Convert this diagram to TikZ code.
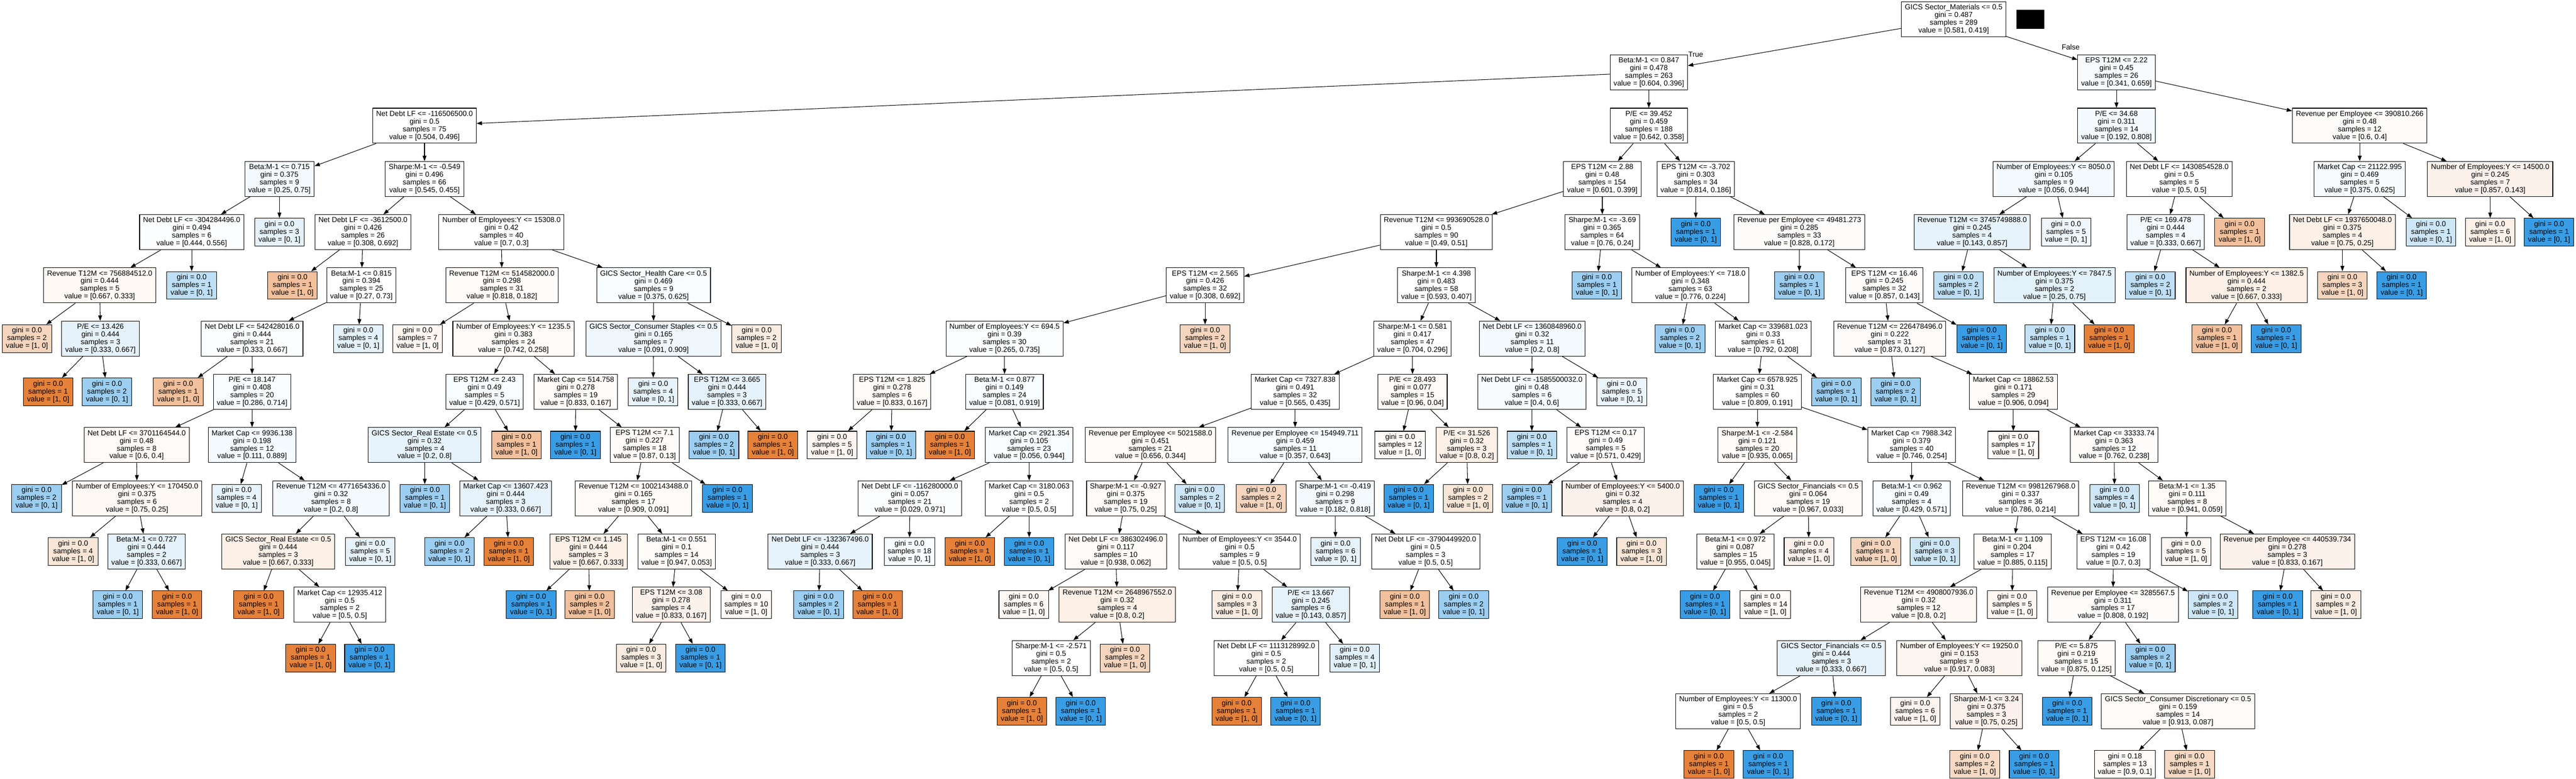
\documentclass[tikz,border=0pt]{standalone}
\usepackage{fontspec}
\setmainfont{Liberation Sans}
\usetikzlibrary{arrows.meta}
\definecolor{org}{HTML}{E58139}
\definecolor{blu}{HTML}{399DE5}

\begin{document}
\begin{tikzpicture}[x=0.5pt, y=-69.15pt,
    box/.style={draw, line width=0.7pt, align=center, inner xsep=4.5pt, inner ysep=0pt,
      minimum height=45.5pt, font=\fontsize{9.5pt}{10pt}\selectfont},
    leaf/.style={box, minimum height=36pt, minimum width=64.5pt},
    tag/.style={inner sep=0pt, font=\fontsize{9.5pt}{10pt}\selectfont},
    branch/.style={-{Triangle[length=7pt, width=5pt]}, line width=0.7pt}]
      \useasboundingbox (0, -0.3615) rectangle (6693, 14.266);
      \fill[white] (0, -0.3615) rectangle (6693, 14.266);

      % depth 0-1
      \node[box, fill=white] (root) at (5076, 0) {GICS Sector\_Materials <= 0.5\\gini = 0.487\\samples = 289\\value = [0.581, 0.419]};
      \fill (5239, -0.1735) rectangle (5312, 0.1808);
      \node[box, fill=white] (L) at (4284, 1) {Beta:M-1 <= 0.847\\gini = 0.478\\samples = 263\\value = [0.604, 0.396]};
      \node[box, fill=blu!4] (R) at (5499, 1) {EPS T12M <= 2.22\\gini = 0.45\\samples = 26\\value = [0.341, 0.659]};
      \node[tag] (true label) at (4406, 0.658) {True};
      \node[tag] (false label) at (5380, 0.528) {False};

      % depth 2
      \node[box, fill=white] (LL) at (1103, 2) {Net Debt LF <= -116506500.0\\gini = 0.5\\samples = 75\\value = [0.504, 0.496]};
      \node[box, fill=white] (LR) at (4284, 2) {P/E <= 39.452\\gini = 0.459\\samples = 188\\value = [0.642, 0.358]};
      \node[box, fill=blu!5] (RL) at (5499, 2) {P/E <= 34.68\\gini = 0.311\\samples = 14\\value = [0.192, 0.808]};
      \node[box, fill=org!2] (RR) at (6131, 2) {Revenue per Employee <= 390810.266\\gini = 0.48\\samples = 12\\value = [0.6, 0.4]};

      % depth 3
      \node[box, fill=blu!5] (LLL) at (726, 3) {Beta:M-1 <= 0.715\\gini = 0.375\\samples = 9\\value = [0.25, 0.75]};
      \node[box, fill=white] (LLR) at (1103, 3) {Sharpe:M-1 <= -0.549\\gini = 0.496\\samples = 66\\value = [0.545, 0.455]};
      \node[box, fill=white] (LRL) at (4163, 3) {EPS T12M <= 2.88\\gini = 0.48\\samples = 154\\value = [0.601, 0.399]};
      \node[box, fill=white] (LRR) at (4406, 3) {EPS T12M <= -3.702\\gini = 0.303\\samples = 34\\value = [0.814, 0.186]};
      \node[box, fill=blu!5] (RLL) at (5336, 3) {Number of Employees:Y <= 8050.0\\gini = 0.105\\samples = 9\\value = [0.056, 0.944]};
      \node[box, fill=white] (RLR) at (5662, 3) {Net Debt LF <= 1430854528.0\\gini = 0.5\\samples = 5\\value = [0.5, 0.5]};
      \node[box, fill=blu!4] (RRL) at (6131, 3) {Market Cap <= 21122.995\\gini = 0.469\\samples = 5\\value = [0.375, 0.625]};
      \node[box, fill=org!10] (RRR) at (6470, 3) {Number of Employees:Y <= 14500.0\\gini = 0.245\\samples = 7\\value = [0.857, 0.143]};

      % depth 4
      \node[box, fill=blu!2] (LLLL) at (498, 4) {Net Debt LF <= -304284496.0\\gini = 0.494\\samples = 6\\value = [0.444, 0.556]};
      \node[leaf, fill=blu!13] (LLLR) at (726, 4) {gini = 0.0\\samples = 3\\value = [0, 1]};
      \node[box, fill=white] (LLRL) at (943, 4) {Net Debt LF <= -3612500.0\\gini = 0.426\\samples = 26\\value = [0.308, 0.692]};
      \node[box, fill=white] (LLRR) at (1303, 4) {Number of Employees:Y <= 15308.0\\gini = 0.42\\samples = 40\\value = [0.7, 0.3]};
      \node[box, fill=white] (LRLL) at (3732, 4) {Revenue T12M <= 993690528.0\\gini = 0.5\\samples = 90\\value = [0.49, 0.51]};
      \node[box, fill=white] (LRLR) at (4163, 4) {Sharpe:M-1 <= -3.69\\gini = 0.365\\samples = 64\\value = [0.76, 0.24]};
      \node[leaf, fill=blu] (LRRL) at (4406, 4) {gini = 0.0\\samples = 1\\value = [0, 1]};
      \node[box, fill=org!2] (LRRR) at (4675, 4) {Revenue per Employee <= 49481.273\\gini = 0.285\\samples = 33\\value = [0.828, 0.172]};
      \node[box, fill=blu!12] (RLLL) at (5124, 4) {Revenue T12M <= 3745749888.0\\gini = 0.245\\samples = 4\\value = [0.143, 0.857]};
      \node[leaf, fill=blu!8] (RLLR) at (5368, 4) {gini = 0.0\\samples = 5\\value = [0, 1]};
      \node[box, fill=blu!6] (RLRL) at (5627, 4) {P/E <= 169.478\\gini = 0.444\\samples = 4\\value = [0.333, 0.667]};
      \node[leaf, fill=org!50] (RLRR) at (5819, 4) {gini = 0.0\\samples = 1\\value = [1, 0]};
      \node[box, fill=org!12] (RRLL) at (6086, 4) {Net Debt LF <= 1937650048.0\\gini = 0.375\\samples = 4\\value = [0.75, 0.25]};
      \node[leaf, fill=blu!25] (RRLR) at (6316, 4) {gini = 0.0\\samples = 1\\value = [0, 1]};
      \node[leaf, fill=org!12] (RRRL) at (6470, 4) {gini = 0.0\\samples = 6\\value = [1, 0]};
      \node[leaf, fill=blu] (RRRR) at (6623, 4) {gini = 0.0\\samples = 1\\value = [0, 1]};

      % depth 5
      \node[box, fill=org!5] (LLLLL) at (259, 5) {Revenue T12M <= 756884512.0\\gini = 0.444\\samples = 5\\value = [0.667, 0.333]};
      \node[leaf, fill=blu!33] (LLLLR) at (498, 5) {gini = 0.0\\samples = 1\\value = [0, 1]};
      \node[leaf, fill=org!50] (LLRLL) at (760, 5) {gini = 0.0\\samples = 1\\value = [1, 0]};
      \node[box, fill=white] (LLRLR) at (939, 5) {Beta:M-1 <= 0.815\\gini = 0.394\\samples = 25\\value = [0.27, 0.73]};
      \node[box, fill=org!3] (LLRRL) at (1304, 5) {Revenue T12M <= 514582000.0\\gini = 0.298\\samples = 31\\value = [0.818, 0.182]};
      \node[box, fill=blu!3] (LLRRR) at (1698, 5) {GICS Sector\_Health Care <= 0.5\\gini = 0.469\\samples = 9\\value = [0.375, 0.625]};
      \node[box, fill=white] (LRLLL) at (3131, 5) {EPS T12M <= 2.565\\gini = 0.426\\samples = 32\\value = [0.308, 0.692]};
      \node[box, fill=white] (LRLLR) at (3732, 5) {Sharpe:M-1 <= 4.398\\gini = 0.483\\samples = 58\\value = [0.593, 0.407]};
      \node[leaf, fill=blu!50] (LRLRL) at (4149, 5) {gini = 0.0\\samples = 1\\value = [0, 1]};
      \node[box, fill=white] (LRLRR) at (4392, 5) {Number of Employees:Y <= 718.0\\gini = 0.348\\samples = 63\\value = [0.776, 0.224]};
      \node[leaf, fill=blu!50] (LRRRL) at (4675, 5) {gini = 0.0\\samples = 1\\value = [0, 1]};
      \node[box, fill=org!2] (LRRRR) at (4896, 5) {EPS T12M <= 16.46\\gini = 0.245\\samples = 32\\value = [0.857, 0.143]};
      \node[leaf, fill=blu!33] (RLLLL) at (5089, 5) {gini = 0.0\\samples = 2\\value = [0, 1]};
      \node[box, fill=blu!14] (RLLLR) at (5338, 5) {Number of Employees:Y <= 7847.5\\gini = 0.375\\samples = 2\\value = [0.25, 0.75]};
      \node[leaf, fill=blu!33] (RLRLL) at (5587, 5) {gini = 0.0\\samples = 2\\value = [0, 1]};
      \node[box, fill=org!12] (RLRLR) at (5837, 5) {Number of Employees:Y <= 1382.5\\gini = 0.444\\samples = 2\\value = [0.667, 0.333]};
      \node[leaf, fill=org!33] (RRLLL) at (6086, 5) {gini = 0.0\\samples = 3\\value = [1, 0]};
      \node[leaf, fill=blu] (RRLLR) at (6240, 5) {gini = 0.0\\samples = 1\\value = [0, 1]};

      % depth 6
      \node[leaf, fill=org!33] (LLLLLL) at (70, 6) {gini = 0.0\\samples = 2\\value = [1, 0]};
      \node[box, fill=blu!13] (LLLLLR) at (261, 6) {P/E <= 13.426\\gini = 0.444\\samples = 3\\value = [0.333, 0.667]};
      \node[box, fill=blu!2] (LLRLRL) at (655, 6) {Net Debt LF <= 542428016.0\\gini = 0.444\\samples = 21\\value = [0.333, 0.667]};
      \node[leaf, fill=blu!13] (LLRLRR) at (931, 6) {gini = 0.0\\samples = 4\\value = [0, 1]};
      \node[leaf, fill=org!7] (LLRRLL) at (1085, 6) {gini = 0.0\\samples = 7\\value = [1, 0]};
      \node[box, fill=org!3] (LLRRLR) at (1334, 6) {Number of Employees:Y <= 1235.5\\gini = 0.383\\samples = 24\\value = [0.742, 0.258]};
      \node[box, fill=blu!8] (LLRRRL) at (1698, 6) {GICS Sector\_Consumer Staples <= 0.5\\gini = 0.165\\samples = 7\\value = [0.091, 0.909]};
      \node[leaf, fill=org!15] (LLRRRR) at (1966, 6) {gini = 0.0\\samples = 2\\value = [1, 0]};
      \node[box, fill=blu!2] (LRLLLL) at (2610, 6) {Number of Employees:Y <= 694.5\\gini = 0.39\\samples = 30\\value = [0.265, 0.735]};
      \node[leaf, fill=org!33] (LRLLLR) at (3131, 6) {gini = 0.0\\samples = 2\\value = [1, 0]};
      \node[box, fill=white] (LRLLRL) at (3670, 6) {Sharpe:M-1 <= 0.581\\gini = 0.417\\samples = 47\\value = [0.704, 0.296]};
      \node[box, fill=blu!5] (LRLLRR) at (3981, 6) {Net Debt LF <= 1360848960.0\\gini = 0.32\\samples = 11\\value = [0.2, 0.8]};
      \node[leaf, fill=blu!50] (LRLRRL) at (4365, 6) {gini = 0.0\\samples = 2\\value = [0, 1]};
      \node[box, fill=white] (LRLRRR) at (4581, 6) {Market Cap <= 339681.023\\gini = 0.33\\samples = 61\\value = [0.792, 0.208]};
      \node[box, fill=org!2] (LRRRRL) at (4910, 6) {Revenue T12M <= 226478496.0\\gini = 0.222\\samples = 31\\value = [0.873, 0.127]};
      \node[leaf, fill=blu] (LRRRRR) at (5149, 6) {gini = 0.0\\samples = 1\\value = [0, 1]};
      \node[leaf, fill=blu!30] (RLLLRL) at (5326, 6) {gini = 0.0\\samples = 1\\value = [0, 1]};
      \node[leaf, fill=org] (RLLLRR) at (5480, 6) {gini = 0.0\\samples = 1\\value = [1, 0]};
      \node[leaf, fill=org!50] (RLRLRL) at (5760, 6) {gini = 0.0\\samples = 1\\value = [1, 0]};
      \node[leaf, fill=blu] (RLRLRR) at (5914, 6) {gini = 0.0\\samples = 1\\value = [0, 1]};

      % depth 7
      \node[leaf, fill=org] (LLLLLRL) at (125, 7) {gini = 0.0\\samples = 1\\value = [1, 0]};
      \node[leaf, fill=blu!50] (LLLLLRR) at (278, 7) {gini = 0.0\\samples = 2\\value = [0, 1]};
      \node[leaf, fill=org!50] (LLRLRLL) at (463, 7) {gini = 0.0\\samples = 1\\value = [1, 0]};
      \node[box, fill=blu!3] (LLRLRLR) at (655, 7) {P/E <= 18.147\\gini = 0.408\\samples = 20\\value = [0.286, 0.714]};
      \node[box, fill=blu!3] (LLRRLRL) at (1259, 7) {EPS T12M <= 2.43\\gini = 0.49\\samples = 5\\value = [0.429, 0.571]};
      \node[box, fill=org!3] (LLRRLRR) at (1496, 7) {Market Cap <= 514.758\\gini = 0.278\\samples = 19\\value = [0.833, 0.167]};
      \node[leaf, fill=blu!12] (LLRRRLL) at (1697, 7) {gini = 0.0\\samples = 4\\value = [0, 1]};
      \node[box, fill=blu!13] (LLRRRLR) at (1889, 7) {EPS T12M <= 3.665\\gini = 0.444\\samples = 3\\value = [0.333, 0.667]};
      \node[box, fill=org!4] (LRLLLLL) at (2318, 7) {EPS T12M <= 1.825\\gini = 0.278\\samples = 6\\value = [0.833, 0.167]};
      \node[box, fill=blu!3] (LRLLLLR) at (2610, 7) {Beta:M-1 <= 0.877\\gini = 0.149\\samples = 24\\value = [0.081, 0.919]};
      \node[box, fill=white] (LRLLRLL) at (3365, 7) {Market Cap <= 7327.838\\gini = 0.491\\samples = 32\\value = [0.565, 0.435]};
      \node[box, fill=org!4] (LRLLRLR) at (3670, 7) {P/E <= 28.493\\gini = 0.077\\samples = 15\\value = [0.96, 0.04]};
      \node[box, fill=blu!4] (LRLLRRL) at (3980, 7) {Net Debt LF <= -1585500032.0\\gini = 0.48\\samples = 6\\value = [0.4, 0.6]};
      \node[leaf, fill=blu!10] (LRLLRRR) at (4214, 7) {gini = 0.0\\samples = 5\\value = [0, 1]};
      \node[box, fill=white] (LRLRRRL) at (4566, 7) {Market Cap <= 6578.925\\gini = 0.31\\samples = 60\\value = [0.809, 0.191]};
      \node[leaf, fill=blu!50] (LRLRRRR) at (4771, 7) {gini = 0.0\\samples = 1\\value = [0, 1]};
      \node[leaf, fill=blu!50] (LRRRRLL) at (4925, 7) {gini = 0.0\\samples = 2\\value = [0, 1]};
      \node[box, fill=org!3] (LRRRRLR) at (5231, 7) {Market Cap <= 18862.53\\gini = 0.171\\samples = 29\\value = [0.906, 0.094]};

      % depth 8
      \node[box, fill=org!4] (LLRLRLRL) at (355, 8) {Net Debt LF <= 3701164544.0\\gini = 0.48\\samples = 8\\value = [0.6, 0.4]};
      \node[box, fill=blu!5] (LLRLRLRR) at (655, 8) {Market Cap <= 9936.138\\gini = 0.198\\samples = 12\\value = [0.111, 0.889]};
      \node[box, fill=blu!12] (LLRRLRLL) at (1103, 8) {GICS Sector\_Real Estate <= 0.5\\gini = 0.32\\samples = 4\\value = [0.2, 0.8]};
      \node[leaf, fill=org!50] (LLRRLRLR) at (1342, 8) {gini = 0.0\\samples = 1\\value = [1, 0]};
      \node[leaf, fill=blu] (LLRRLRRL) at (1495, 8) {gini = 0.0\\samples = 1\\value = [0, 1]};
      \node[box, fill=org!3] (LLRRLRRR) at (1675, 8) {EPS T12M <= 7.1\\gini = 0.227\\samples = 18\\value = [0.87, 0.13]};
      \node[leaf, fill=blu!50] (LLRRRLRL) at (1855, 8) {gini = 0.0\\samples = 2\\value = [0, 1]};
      \node[leaf, fill=org] (LLRRRLRR) at (2008, 8) {gini = 0.0\\samples = 1\\value = [1, 0]};
      \node[leaf, fill=org!7] (LRLLLLLL) at (2162, 8) {gini = 0.0\\samples = 5\\value = [1, 0]};
      \node[leaf, fill=blu!50] (LRLLLLLR) at (2315, 8) {gini = 0.0\\samples = 1\\value = [0, 1]};
      \node[leaf, fill=org] (LRLLLLRL) at (2468, 8) {gini = 0.0\\samples = 1\\value = [1, 0]};
      \node[box, fill=blu!3] (LRLLLLRR) at (2674, 8) {Market Cap <= 2921.354\\gini = 0.105\\samples = 23\\value = [0.056, 0.944]};
      \node[box, fill=org!3] (LRLLRLLL) at (2989, 8) {Revenue per Employee <= 5021588.0\\gini = 0.451\\samples = 21\\value = [0.656, 0.344]};
      \node[box, fill=blu!3] (LRLLRLLR) at (3365, 8) {Revenue per Employee <= 154949.711\\gini = 0.459\\samples = 11\\value = [0.357, 0.643]};
      \node[leaf, fill=org!4] (LRLLRLRL) at (3638, 8) {gini = 0.0\\samples = 12\\value = [1, 0]};
      \node[box, fill=org!12] (LRLLRLRR) at (3811, 8) {P/E <= 31.526\\gini = 0.32\\samples = 3\\value = [0.8, 0.2]};
      \node[leaf, fill=blu!33] (LRLLRRLL) at (3980, 8) {gini = 0.0\\samples = 1\\value = [0, 1]};
      \node[box, fill=org!2] (LRLLRRLR) at (4172, 8) {EPS T12M <= 0.17\\gini = 0.49\\samples = 5\\value = [0.571, 0.429]};
      \node[box, fill=org!3] (LRLRRRLL) at (4566, 8) {Sharpe:M-1 <= -2.584\\gini = 0.121\\samples = 20\\value = [0.935, 0.065]};
      \node[box, fill=white] (LRLRRRLR) at (4967, 8) {Market Cap <= 7988.342\\gini = 0.379\\samples = 40\\value = [0.746, 0.254]};
      \node[leaf, fill=org!3] (LRRRRLRL) at (5231, 8) {gini = 0.0\\samples = 17\\value = [1, 0]};
      \node[box, fill=org!2] (LRRRRLRR) at (5493, 8) {Market Cap <= 33333.74\\gini = 0.363\\samples = 12\\value = [0.762, 0.238]};

      % depth 9
      \node[leaf, fill=blu!50] (LLRLRLRLL) at (95, 9) {gini = 0.0\\samples = 2\\value = [0, 1]};
      \node[box, fill=org!5] (LLRLRLRLR) at (356, 9) {Number of Employees:Y <= 170450.0\\gini = 0.375\\samples = 6\\value = [0.75, 0.25]};
      \node[leaf, fill=blu!12] (LLRLRLRRL) at (615, 9) {gini = 0.0\\samples = 4\\value = [0, 1]};
      \node[box, fill=blu!5] (LLRLRLRRR) at (860, 9) {Revenue T12M <= 4771654336.0\\gini = 0.32\\samples = 8\\value = [0.2, 0.8]};
      \node[leaf, fill=blu!50] (LLRRLRLLL) at (1104, 9) {gini = 0.0\\samples = 1\\value = [0, 1]};
      \node[box, fill=blu!12] (LLRRLRLLR) at (1314, 9) {Market Cap <= 13607.423\\gini = 0.444\\samples = 3\\value = [0.333, 0.667]};
      \node[box, fill=org!3] (LLRRLRRRL) at (1646, 9) {Revenue T12M <= 1002143488.0\\gini = 0.165\\samples = 17\\value = [0.909, 0.091]};
      \node[leaf, fill=blu] (LLRRLRRRR) at (1890, 9) {gini = 0.0\\samples = 1\\value = [0, 1]};
      \node[box, fill=blu!2] (LRLLLLRRL) at (2364, 9) {Net Debt LF <= -116280000.0\\gini = 0.057\\samples = 21\\value = [0.029, 0.971]};
      \node[box, fill=white] (LRLLLLRRR) at (2674, 9) {Market Cap <= 3180.063\\gini = 0.5\\samples = 2\\value = [0.5, 0.5]};
      \node[box, fill=org!3] (LRLLRLLLL) at (2925, 9) {Sharpe:M-1 <= -0.927\\gini = 0.375\\samples = 19\\value = [0.75, 0.25]};
      \node[leaf, fill=blu!25] (LRLLRLLLR) at (3117, 9) {gini = 0.0\\samples = 2\\value = [0, 1]};
      \node[leaf, fill=org!33] (LRLLRLLRL) at (3277, 9) {gini = 0.0\\samples = 2\\value = [1, 0]};
      \node[box, fill=blu!5] (LRLLRLLRR) at (3469, 9) {Sharpe:M-1 <= -0.419\\gini = 0.298\\samples = 9\\value = [0.182, 0.818]};
      \node[leaf, fill=blu] (LRLLRLRRL) at (3660, 9) {gini = 0.0\\samples = 1\\value = [0, 1]};
      \node[leaf, fill=org!20] (LRLLRLRRR) at (3814, 9) {gini = 0.0\\samples = 2\\value = [1, 0]};
      \node[leaf, fill=blu!50] (LRLLRRLRL) at (3967, 9) {gini = 0.0\\samples = 1\\value = [0, 1]};
      \node[box, fill=org!10] (LRLLRRLRR) at (4216, 9) {Number of Employees:Y <= 5400.0\\gini = 0.32\\samples = 4\\value = [0.8, 0.2]};
      \node[leaf, fill=blu] (LRLRRRLLL) at (4466, 9) {gini = 0.0\\samples = 1\\value = [0, 1]};
      \node[box, fill=org!3] (LRLRRRLLR) at (4698, 9) {GICS Sector\_Financials <= 0.5\\gini = 0.064\\samples = 19\\value = [0.967, 0.033]};
      \node[box, fill=blu!3] (LRLRRRLRL) at (4967, 9) {Beta:M-1 <= 0.962\\gini = 0.49\\samples = 4\\value = [0.429, 0.571]};
      \node[box, fill=white] (LRLRRRLRR) at (5250, 9) {Revenue T12M <= 9981267968.0\\gini = 0.337\\samples = 36\\value = [0.786, 0.214]};
      \node[leaf, fill=blu!25] (LRRRRLRRL) at (5494, 9) {gini = 0.0\\samples = 4\\value = [0, 1]};
      \node[box, fill=org!3] (LRRRRLRRR) at (5683, 9) {Beta:M-1 <= 1.35\\gini = 0.111\\samples = 8\\value = [0.941, 0.059]};

      % depth 10
      \node[leaf, fill=org!20] (LLRLRLRLRL) at (190, 10) {gini = 0.0\\samples = 4\\value = [1, 0]};
      \node[box, fill=blu!13] (LLRLRLRLRR) at (381, 10) {Beta:M-1 <= 0.727\\gini = 0.444\\samples = 2\\value = [0.333, 0.667]};
      \node[box, fill=org!12] (LLRLRLRRRL) at (723, 10) {GICS Sector\_Real Estate <= 0.5\\gini = 0.444\\samples = 3\\value = [0.667, 0.333]};
      \node[leaf, fill=blu!12] (LLRLRLRRRR) at (962, 10) {gini = 0.0\\samples = 5\\value = [0, 1]};
      \node[leaf, fill=blu!50] (LLRRLRLLRL) at (1168, 10) {gini = 0.0\\samples = 2\\value = [0, 1]};
      \node[leaf, fill=org] (LLRRLRLLRR) at (1322, 10) {gini = 0.0\\samples = 1\\value = [1, 0]};
      \node[box, fill=org!12] (LLRRLRRRLL) at (1529, 10) {EPS T12M <= 1.145\\gini = 0.444\\samples = 3\\value = [0.667, 0.333]};
      \node[box, fill=org!3] (LLRRLRRRLR) at (1758, 10) {Beta:M-1 <= 0.551\\gini = 0.1\\samples = 14\\value = [0.947, 0.053]};
      \node[box, fill=blu!12] (LRLLLLRRLL) at (2131, 10) {Net Debt LF <= -132367496.0\\gini = 0.444\\samples = 3\\value = [0.333, 0.667]};
      \node[leaf, fill=blu!3] (LRLLLLRRLR) at (2363, 10) {gini = 0.0\\samples = 18\\value = [0, 1]};
      \node[leaf, fill=org] (LRLLLLRRRL) at (2520, 10) {gini = 0.0\\samples = 1\\value = [1, 0]};
      \node[leaf, fill=blu] (LRLLLLRRRR) at (2674, 10) {gini = 0.0\\samples = 1\\value = [0, 1]};
      \node[box, fill=org!4] (LRLLRLLLLL) at (2899, 10) {Net Debt LF <= 386302496.0\\gini = 0.117\\samples = 10\\value = [0.938, 0.062]};
      \node[box, fill=white] (LRLLRLLLLR) at (3221, 10) {Number of Employees:Y <= 3544.0\\gini = 0.5\\samples = 9\\value = [0.5, 0.5]};
      \node[leaf, fill=blu!12] (LRLLRLLRRL) at (3470, 10) {gini = 0.0\\samples = 6\\value = [0, 1]};
      \node[box, fill=white] (LRLLRLLRRR) at (3704, 10) {Net Debt LF <= -3790449920.0\\gini = 0.5\\samples = 3\\value = [0.5, 0.5]};
      \node[leaf, fill=blu] (LRLLRRLRRL) at (4111, 10) {gini = 0.0\\samples = 1\\value = [0, 1]};
      \node[leaf, fill=org!20] (LRLLRRLRRR) at (4265, 10) {gini = 0.0\\samples = 3\\value = [1, 0]};
      \node[box, fill=org!3] (LRLRRRLLRL) at (4509, 10) {Beta:M-1 <= 0.972\\gini = 0.087\\samples = 15\\value = [0.955, 0.045]};
      \node[leaf, fill=org!10] (LRLRRRLLRR) at (4700, 10) {gini = 0.0\\samples = 4\\value = [1, 0]};
      \node[leaf, fill=org!33] (LRLRRRLRLL) at (4874, 10) {gini = 0.0\\samples = 1\\value = [1, 0]};
      \node[leaf, fill=blu!25] (LRLRRRLRLR) at (5027, 10) {gini = 0.0\\samples = 3\\value = [0, 1]};
      \node[box, fill=org!3] (LRLRRRLRRL) at (5229, 10) {Beta:M-1 <= 1.109\\gini = 0.204\\samples = 17\\value = [0.885, 0.115]};
      \node[box, fill=white] (LRLRRRLRRR) at (5491, 10) {EPS T12M <= 16.08\\gini = 0.42\\samples = 19\\value = [0.7, 0.3]};
      \node[leaf, fill=org!6] (LRRRRLRRRL) at (5680, 10) {gini = 0.0\\samples = 5\\value = [1, 0]};
      \node[box, fill=org!10] (LRRRRLRRRR) at (5943, 10) {Revenue per Employee <= 440539.734\\gini = 0.278\\samples = 3\\value = [0.833, 0.167]};

      % depth 11
      \node[leaf, fill=blu!50] (LLRLRLRLRRL) at (306, 11) {gini = 0.0\\samples = 1\\value = [0, 1]};
      \node[leaf, fill=org] (LLRLRLRLRRR) at (460, 11) {gini = 0.0\\samples = 1\\value = [1, 0]};
      \node[leaf, fill=org] (LLRLRLRRRLL) at (672, 11) {gini = 0.0\\samples = 1\\value = [1, 0]};
      \node[box, fill=white] (LLRLRLRRRLR) at (883, 11) {Market Cap <= 12935.412\\gini = 0.5\\samples = 2\\value = [0.5, 0.5]};
      \node[leaf, fill=blu] (LLRRLRRRLLL) at (1380, 11) {gini = 0.0\\samples = 1\\value = [0, 1]};
      \node[leaf, fill=org!50] (LLRRLRRRLLR) at (1532, 11) {gini = 0.0\\samples = 2\\value = [1, 0]};
      \node[box, fill=org!10] (LLRRLRRRLRL) at (1744, 11) {EPS T12M <= 3.08\\gini = 0.278\\samples = 4\\value = [0.833, 0.167]};
      \node[leaf, fill=org!4] (LLRRLRRRLRR) at (1939, 11) {gini = 0.0\\samples = 10\\value = [1, 0]};
      \node[leaf, fill=blu!50] (LRLLLLRRLLL) at (2127, 11) {gini = 0.0\\samples = 2\\value = [0, 1]};
      \node[leaf, fill=org] (LRLLLLRRLLR) at (2280, 11) {gini = 0.0\\samples = 1\\value = [1, 0]};
      \node[leaf, fill=org!5] (LRLLRLLLLLL) at (2660, 11) {gini = 0.0\\samples = 6\\value = [1, 0]};
      \node[box, fill=org!12] (LRLLRLLLLLR) at (2903, 11) {Revenue T12M <= 2648967552.0\\gini = 0.32\\samples = 4\\value = [0.8, 0.2]};
      \node[leaf, fill=org!15] (LRLLRLLLLRL) at (3214, 11) {gini = 0.0\\samples = 3\\value = [1, 0]};
      \node[box, fill=blu!12] (LRLLRLLLLRR) at (3406, 11) {P/E <= 13.667\\gini = 0.245\\samples = 6\\value = [0.143, 0.857]};
      \node[leaf, fill=org!50] (LRLLRLLRRRL) at (3650, 11) {gini = 0.0\\samples = 1\\value = [1, 0]};
      \node[leaf, fill=blu!50] (LRLLRLLRRRR) at (3803, 11) {gini = 0.0\\samples = 2\\value = [0, 1]};
      \node[leaf, fill=blu] (LRLRRRLLRLL) at (4430, 11) {gini = 0.0\\samples = 1\\value = [0, 1]};
      \node[leaf, fill=org!3] (LRLRRRLLRLR) at (4587, 11) {gini = 0.0\\samples = 14\\value = [1, 0]};
      \node[box, fill=org!5] (LRLRRRLRRLL) at (4985, 11) {Revenue T12M <= 4908007936.0\\gini = 0.32\\samples = 12\\value = [0.8, 0.2]};
      \node[leaf, fill=org!6] (LRLRRRLRRLR) at (5228, 11) {gini = 0.0\\samples = 5\\value = [1, 0]};
      \node[box, fill=org!2] (LRLRRRLRRRL) at (5490, 11) {Revenue per Employee <= 3285567.5\\gini = 0.311\\samples = 17\\value = [0.808, 0.192]};
      \node[leaf, fill=blu!25] (LRLRRRLRRRR) at (5750, 11) {gini = 0.0\\samples = 2\\value = [0, 1]};
      \node[leaf, fill=blu] (LRRRRLRRRRL) at (5918, 11) {gini = 0.0\\samples = 1\\value = [0, 1]};
      \node[leaf, fill=org!15] (LRRRRLRRRRR) at (6069, 11) {gini = 0.0\\samples = 2\\value = [1, 0]};

      % depth 12
      \node[leaf, fill=org] (LLRLRLRRRLRL) at (807, 12) {gini = 0.0\\samples = 1\\value = [1, 0]};
      \node[leaf, fill=blu] (LLRLRLRRRLRR) at (960, 12) {gini = 0.0\\samples = 1\\value = [0, 1]};
      \node[leaf, fill=org!15] (LLRRLRRRLRLL) at (1666, 12) {gini = 0.0\\samples = 3\\value = [1, 0]};
      \node[leaf, fill=blu] (LLRRLRRRLRLR) at (1820, 12) {gini = 0.0\\samples = 1\\value = [0, 1]};
      \node[box, fill=white] (LRLLRLLLLLRL) at (2731, 12) {Sharpe:M-1 <= -2.571\\gini = 0.5\\samples = 2\\value = [0.5, 0.5]};
      \node[leaf, fill=org!33] (LRLLRLLLLLRR) at (2923, 12) {gini = 0.0\\samples = 2\\value = [1, 0]};
      \node[box, fill=white] (LRLLRLLLLRRL) at (3290, 12) {Net Debt LF <= 1113128992.0\\gini = 0.5\\samples = 2\\value = [0.5, 0.5]};
      \node[leaf, fill=blu!15] (LRLLRLLLLRRR) at (3520, 12) {gini = 0.0\\samples = 4\\value = [0, 1]};
      \node[box, fill=blu!12] (LRLRRRLRRLLL) at (4758, 12) {GICS Sector\_Financials <= 0.5\\gini = 0.444\\samples = 3\\value = [0.333, 0.667]};
      \node[box, fill=org!8] (LRLRRRLRRLLR) at (5091, 12) {Number of Employees:Y <= 19250.0\\gini = 0.153\\samples = 9\\value = [0.917, 0.083]};
      \node[box, fill=org!3] (LRLRRRLRRRLL) at (5395, 12) {P/E <= 5.875\\gini = 0.219\\samples = 15\\value = [0.875, 0.125]};
      \node[leaf, fill=blu!50] (LRLRRRLRRRLR) at (5587, 12) {gini = 0.0\\samples = 2\\value = [0, 1]};

      % depth 13
      \node[leaf, fill=org] (LRLLRLLLLLRLL) at (2655, 13) {gini = 0.0\\samples = 1\\value = [1, 0]};
      \node[leaf, fill=blu] (LRLLRLLLLLRLR) at (2808, 13) {gini = 0.0\\samples = 1\\value = [0, 1]};
      \node[leaf, fill=org] (LRLLRLLLLRRLL) at (3213, 13) {gini = 0.0\\samples = 1\\value = [1, 0]};
      \node[leaf, fill=blu] (LRLLRLLLLRRLR) at (3366, 13) {gini = 0.0\\samples = 1\\value = [0, 1]};
      \node[box, fill=white] (LRLRRRLRRLLLL) at (4516, 13) {Number of Employees:Y <= 11300.0\\gini = 0.5\\samples = 2\\value = [0.5, 0.5]};
      \node[leaf, fill=blu] (LRLRRRLRRLLLR) at (4771, 13) {gini = 0.0\\samples = 1\\value = [0, 1]};
      \node[leaf, fill=org!8] (LRLRRRLRRLLRL) at (4976, 13) {gini = 0.0\\samples = 6\\value = [1, 0]};
      \node[box, fill=org!10] (LRLRRRLRRLLRR) at (5161, 13) {Sharpe:M-1 <= 3.24\\gini = 0.375\\samples = 3\\value = [0.75, 0.25]};
      \node[leaf, fill=blu] (LRLRRRLRRRLLL) at (5371, 13) {gini = 0.0\\samples = 1\\value = [0, 1]};
      \node[box, fill=org!3] (LRLRRRLRRRLLR) at (5659, 13) {GICS Sector\_Consumer Discretionary <= 0.5\\gini = 0.159\\samples = 14\\value = [0.913, 0.087]};

      % depth 14
      \node[leaf, fill=org] (LRLRRRLRRLLLLL) at (4440, 14) {gini = 0.0\\samples = 1\\value = [1, 0]};
      \node[leaf, fill=blu] (LRLRRRLRRLLLLR) at (4594, 14) {gini = 0.0\\samples = 1\\value = [0, 1]};
      \node[leaf, fill=org!30] (LRLRRRLRRLLRRL) at (5131, 14) {gini = 0.0\\samples = 2\\value = [1, 0]};
      \node[leaf, fill=blu] (LRLRRRLRRLLRRR) at (5285, 14) {gini = 0.0\\samples = 1\\value = [0, 1]};
      \node[leaf, fill=org!3] (LRLRRRLRRRLLRL) at (5521, 14) {gini = 0.18\\samples = 13\\value = [0.9, 0.1]};
      \node[leaf, fill=org!30] (LRLRRRLRRRLLRR) at (5689, 14) {gini = 0.0\\samples = 1\\value = [1, 0]};

      % branches
      \draw[branch] (root) edge (L) edge (R);
      \draw[branch] (L) edge (LL) edge (LR);
      \draw[branch] (R) edge (RL) edge (RR);
      \draw[branch] (LL) edge (LLL) edge (LLR);
      \draw[branch] (LR) edge (LRL) edge (LRR);
      \draw[branch] (RL) edge (RLL) edge (RLR);
      \draw[branch] (RR) edge (RRL) edge (RRR);
      \draw[branch] (LLL) edge (LLLL) edge (LLLR);
      \draw[branch] (LLR) edge (LLRL) edge (LLRR);
      \draw[branch] (LRL) edge (LRLL) edge (LRLR);
      \draw[branch] (LRR) edge (LRRL) edge (LRRR);
      \draw[branch] (RLL) edge (RLLL) edge (RLLR);
      \draw[branch] (RLR) edge (RLRL) edge (RLRR);
      \draw[branch] (RRL) edge (RRLL) edge (RRLR);
      \draw[branch] (RRR) edge (RRRL) edge (RRRR);
      \draw[branch] (LLLL) edge (LLLLL) edge (LLLLR);
      \draw[branch] (LLRL) edge (LLRLL) edge (LLRLR);
      \draw[branch] (LLRR) edge (LLRRL) edge (LLRRR);
      \draw[branch] (LRLL) edge (LRLLL) edge (LRLLR);
      \draw[branch] (LRLR) edge (LRLRL) edge (LRLRR);
      \draw[branch] (LRRR) edge (LRRRL) edge (LRRRR);
      \draw[branch] (RLLL) edge (RLLLL) edge (RLLLR);
      \draw[branch] (RLRL) edge (RLRLL) edge (RLRLR);
      \draw[branch] (RRLL) edge (RRLLL) edge (RRLLR);
      \draw[branch] (LLLLL) edge (LLLLLL) edge (LLLLLR);
      \draw[branch] (LLRLR) edge (LLRLRL) edge (LLRLRR);
      \draw[branch] (LLRRL) edge (LLRRLL) edge (LLRRLR);
      \draw[branch] (LLRRR) edge (LLRRRL) edge (LLRRRR);
      \draw[branch] (LRLLL) edge (LRLLLL) edge (LRLLLR);
      \draw[branch] (LRLLR) edge (LRLLRL) edge (LRLLRR);
      \draw[branch] (LRLRR) edge (LRLRRL) edge (LRLRRR);
      \draw[branch] (LRRRR) edge (LRRRRL) edge (LRRRRR);
      \draw[branch] (RLLLR) edge (RLLLRL) edge (RLLLRR);
      \draw[branch] (RLRLR) edge (RLRLRL) edge (RLRLRR);
      \draw[branch] (LLLLLR) edge (LLLLLRL) edge (LLLLLRR);
      \draw[branch] (LLRLRL) edge (LLRLRLL) edge (LLRLRLR);
      \draw[branch] (LLRRLR) edge (LLRRLRL) edge (LLRRLRR);
      \draw[branch] (LLRRRL) edge (LLRRRLL) edge (LLRRRLR);
      \draw[branch] (LRLLLL) edge (LRLLLLL) edge (LRLLLLR);
      \draw[branch] (LRLLRL) edge (LRLLRLL) edge (LRLLRLR);
      \draw[branch] (LRLLRR) edge (LRLLRRL) edge (LRLLRRR);
      \draw[branch] (LRLRRR) edge (LRLRRRL) edge (LRLRRRR);
      \draw[branch] (LRRRRL) edge (LRRRRLL) edge (LRRRRLR);
      \draw[branch] (LLRLRLR) edge (LLRLRLRL) edge (LLRLRLRR);
      \draw[branch] (LLRRLRL) edge (LLRRLRLL) edge (LLRRLRLR);
      \draw[branch] (LLRRLRR) edge (LLRRLRRL) edge (LLRRLRRR);
      \draw[branch] (LLRRRLR) edge (LLRRRLRL) edge (LLRRRLRR);
      \draw[branch] (LRLLLLL) edge (LRLLLLLL) edge (LRLLLLLR);
      \draw[branch] (LRLLLLR) edge (LRLLLLRL) edge (LRLLLLRR);
      \draw[branch] (LRLLRLL) edge (LRLLRLLL) edge (LRLLRLLR);
      \draw[branch] (LRLLRLR) edge (LRLLRLRL) edge (LRLLRLRR);
      \draw[branch] (LRLLRRL) edge (LRLLRRLL) edge (LRLLRRLR);
      \draw[branch] (LRLRRRL) edge (LRLRRRLL) edge (LRLRRRLR);
      \draw[branch] (LRRRRLR) edge (LRRRRLRL) edge (LRRRRLRR);
      \draw[branch] (LLRLRLRL) edge (LLRLRLRLL) edge (LLRLRLRLR);
      \draw[branch] (LLRLRLRR) edge (LLRLRLRRL) edge (LLRLRLRRR);
      \draw[branch] (LLRRLRLL) edge (LLRRLRLLL) edge (LLRRLRLLR);
      \draw[branch] (LLRRLRRR) edge (LLRRLRRRL) edge (LLRRLRRRR);
      \draw[branch] (LRLLLLRR) edge (LRLLLLRRL) edge (LRLLLLRRR);
      \draw[branch] (LRLLRLLL) edge (LRLLRLLLL) edge (LRLLRLLLR);
      \draw[branch] (LRLLRLLR) edge (LRLLRLLRL) edge (LRLLRLLRR);
      \draw[branch] (LRLLRLRR) edge (LRLLRLRRL) edge (LRLLRLRRR);
      \draw[branch] (LRLLRRLR) edge (LRLLRRLRL) edge (LRLLRRLRR);
      \draw[branch] (LRLRRRLL) edge (LRLRRRLLL) edge (LRLRRRLLR);
      \draw[branch] (LRLRRRLR) edge (LRLRRRLRL) edge (LRLRRRLRR);
      \draw[branch] (LRRRRLRR) edge (LRRRRLRRL) edge (LRRRRLRRR);
      \draw[branch] (LLRLRLRLR) edge (LLRLRLRLRL) edge (LLRLRLRLRR);
      \draw[branch] (LLRLRLRRR) edge (LLRLRLRRRL) edge (LLRLRLRRRR);
      \draw[branch] (LLRRLRLLR) edge (LLRRLRLLRL) edge (LLRRLRLLRR);
      \draw[branch] (LLRRLRRRL) edge (LLRRLRRRLL) edge (LLRRLRRRLR);
      \draw[branch] (LRLLLLRRL) edge (LRLLLLRRLL) edge (LRLLLLRRLR);
      \draw[branch] (LRLLLLRRR) edge (LRLLLLRRRL) edge (LRLLLLRRRR);
      \draw[branch] (LRLLRLLLL) edge (LRLLRLLLLL) edge (LRLLRLLLLR);
      \draw[branch] (LRLLRLLRR) edge (LRLLRLLRRL) edge (LRLLRLLRRR);
      \draw[branch] (LRLLRRLRR) edge (LRLLRRLRRL) edge (LRLLRRLRRR);
      \draw[branch] (LRLRRRLLR) edge (LRLRRRLLRL) edge (LRLRRRLLRR);
      \draw[branch] (LRLRRRLRL) edge (LRLRRRLRLL) edge (LRLRRRLRLR);
      \draw[branch] (LRLRRRLRR) edge (LRLRRRLRRL) edge (LRLRRRLRRR);
      \draw[branch] (LRRRRLRRR) edge (LRRRRLRRRL) edge (LRRRRLRRRR);
      \draw[branch] (LLRLRLRLRR) edge (LLRLRLRLRRL) edge (LLRLRLRLRRR);
      \draw[branch] (LLRLRLRRRL) edge (LLRLRLRRRLL) edge (LLRLRLRRRLR);
      \draw[branch] (LLRRLRRRLL) edge (LLRRLRRRLLL) edge (LLRRLRRRLLR);
      \draw[branch] (LLRRLRRRLR) edge (LLRRLRRRLRL) edge (LLRRLRRRLRR);
      \draw[branch] (LRLLLLRRLL) edge (LRLLLLRRLLL) edge (LRLLLLRRLLR);
      \draw[branch] (LRLLRLLLLL) edge (LRLLRLLLLLL) edge (LRLLRLLLLLR);
      \draw[branch] (LRLLRLLLLR) edge (LRLLRLLLLRL) edge (LRLLRLLLLRR);
      \draw[branch] (LRLLRLLRRR) edge (LRLLRLLRRRL) edge (LRLLRLLRRRR);
      \draw[branch] (LRLRRRLLRL) edge (LRLRRRLLRLL) edge (LRLRRRLLRLR);
      \draw[branch] (LRLRRRLRRL) edge (LRLRRRLRRLL) edge (LRLRRRLRRLR);
      \draw[branch] (LRLRRRLRRR) edge (LRLRRRLRRRL) edge (LRLRRRLRRRR);
      \draw[branch] (LRRRRLRRRR) edge (LRRRRLRRRRL) edge (LRRRRLRRRRR);
      \draw[branch] (LLRLRLRRRLR) edge (LLRLRLRRRLRL) edge (LLRLRLRRRLRR);
      \draw[branch] (LLRRLRRRLRL) edge (LLRRLRRRLRLL) edge (LLRRLRRRLRLR);
      \draw[branch] (LRLLRLLLLLR) edge (LRLLRLLLLLRL) edge (LRLLRLLLLLRR);
      \draw[branch] (LRLLRLLLLRR) edge (LRLLRLLLLRRL) edge (LRLLRLLLLRRR);
      \draw[branch] (LRLRRRLRRLL) edge (LRLRRRLRRLLL) edge (LRLRRRLRRLLR);
      \draw[branch] (LRLRRRLRRRL) edge (LRLRRRLRRRLL) edge (LRLRRRLRRRLR);
      \draw[branch] (LRLLRLLLLLRL) edge (LRLLRLLLLLRLL) edge (LRLLRLLLLLRLR);
      \draw[branch] (LRLLRLLLLRRL) edge (LRLLRLLLLRRLL) edge (LRLLRLLLLRRLR);
      \draw[branch] (LRLRRRLRRLLL) edge (LRLRRRLRRLLLL) edge (LRLRRRLRRLLLR);
      \draw[branch] (LRLRRRLRRLLR) edge (LRLRRRLRRLLRL) edge (LRLRRRLRRLLRR);
      \draw[branch] (LRLRRRLRRRLL) edge (LRLRRRLRRRLLL) edge (LRLRRRLRRRLLR);
      \draw[branch] (LRLRRRLRRLLLL) edge (LRLRRRLRRLLLLL) edge (LRLRRRLRRLLLLR);
      \draw[branch] (LRLRRRLRRLLRR) edge (LRLRRRLRRLLRRL) edge (LRLRRRLRRLLRRR);
      \draw[branch] (LRLRRRLRRRLLR) edge (LRLRRRLRRRLLRL) edge (LRLRRRLRRRLLRR);
    \end{tikzpicture}
\end{document}
